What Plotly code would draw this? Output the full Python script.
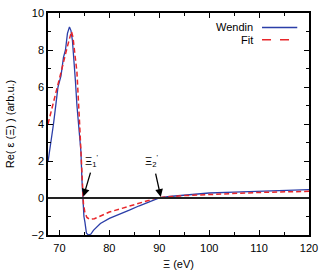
import plotly.graph_objects as go

# Data
wendin_E = [67.7, 68.3, 68.8, 69.3, 69.7, 70.3, 70.8, 71.2, 71.6, 72.0, 72.3, 72.6, 72.9, 73.2,
            73.5, 73.8, 74.0, 74.1, 74.3, 74.5, 74.7, 74.9, 75.1, 75.4, 75.8, 76.3, 76.8, 77.5,
            78.2, 80, 82, 84, 86, 88, 90, 92, 95, 100, 105, 110, 115, 120]
wendin_val = [1.95, 3.0, 4.0, 5.1, 6.0, 6.6, 7.6, 8.0, 8.9, 9.25, 9.05, 8.5, 7.5, 6.3,
              5.0, 4.0, 3.55, 3.4, 2.5, 1.0, -0.2, -1.0, -1.3, -1.9, -2.0, -1.95, -1.75, -1.55,
              -1.38, -1.1, -0.9, -0.66, -0.42, -0.2, 0.0, 0.08, 0.16, 0.27, 0.32, 0.37, 0.42, 0.45]

fit_E = [67.7, 68.5, 69.5, 70.5, 71.5, 72.0, 72.4, 72.7, 73.0, 73.5, 74.0, 74.3, 74.6, 74.8,
         75.1, 75.5, 76.0, 76.5, 77.0, 78.0, 80.0, 82.0, 84.0, 86.0, 88.0, 89.0, 90.0, 95.0,
         100.0, 110.0, 120.0]
fit_val = [4.0, 4.9, 6.0, 7.0, 8.1, 8.7, 9.0, 8.7, 8.0, 6.8, 4.2, 2.3, 0.6, -0.3,
           -0.8, -1.05, -1.15, -1.15, -1.12, -1.0, -0.76, -0.6, -0.45, -0.3, -0.12, -0.03, 0.03, 0.13,
           0.2, 0.3, 0.36]

x_ticks = [70, 80, 90, 100, 110, 120]
y_ticks = [-2, 0, 2, 4, 6, 8, 10]

# annotations: (label, label E, label val, tip E, tip val, tail E, tail val)
arrows = [("Ξ<sub>1</sub><sup>'</sup>", 76.4, 1.45, 74.8, 0.08, 76.3, 1.45),
          ("Ξ<sub>2</sub><sup>'</sup>", 88.4, 1.45, 90.3, 0.06, 89.2, 1.4)]

BLUE = "#2b3ea8"
RED = "#e8262a"
FONT = "Liberation Sans, Arial, sans-serif"

fig = go.Figure()
fig.add_hline(y=0, line=dict(color="#222222", width=2))
fig.add_trace(go.Scatter(x=wendin_E, y=wendin_val, mode="lines", name="Wendin",
                         line=dict(color=BLUE, width=1.3)))
fig.add_trace(go.Scatter(x=fit_E, y=fit_val, mode="lines", name="Fit",
                         line=dict(color=RED, width=1.5, dash="5px,3px")))

for label, lx, ly, tx, ty, sx, sy in arrows:
    fig.add_annotation(x=tx, y=ty, ax=sx, ay=sy, axref="x", ayref="y",
                       showarrow=True, arrowhead=2, arrowsize=1.2, arrowwidth=1.3,
                       arrowcolor="black", text="")
    fig.add_annotation(x=lx, y=ly, text=label, showarrow=False,
                       xanchor="center", yanchor="bottom",
                       font=dict(size=11, color="black", family=FONT))

# custom legend (text left of sample line)
legend_rows = [("Wendin", BLUE, "solid", 0.935), ("Fit", RED, "dash", 0.88)]
for name, col, dash, yp in legend_rows:
    fig.add_annotation(xref="paper", yref="paper", x=0.795, y=yp, text=name,
                       showarrow=False, xanchor="right", yanchor="middle",
                       font=dict(size=11, color="black", family=FONT))
    fig.add_shape(type="line", xref="paper", yref="paper", x0=0.82, x1=0.955, y0=yp, y1=yp,
                  line=dict(color=col, width=1.5, dash=dash))

axis_common = dict(showline=True, linecolor="black", linewidth=1.5, mirror="ticks",
                   ticks="inside", ticklen=5, tickwidth=1.2, tickcolor="black",
                   showgrid=False, zeroline=False, automargin=False,
                   tickfont=dict(size=11, color="black", family=FONT))

fig.update_xaxes(range=[67.7, 120], tickvals=x_ticks, ticklabelstandoff=2,
                 minor=dict(ticks="inside", ticklen=3, tickwidth=1, tickcolor="black", dtick=5,
                            tick0=65, showgrid=False),
                 title=dict(text="Ξ (eV)", font=dict(size=11, color="black", family=FONT)),
                 **axis_common)
fig.update_yaxes(range=[-2, 10], tickvals=y_ticks,
                 minor=dict(ticks="inside", ticklen=3, tickwidth=1, tickcolor="black", dtick=1,
                            tick0=0, showgrid=False),
                 title=dict(text="Re( ε (Ξ) ) (arb.u.)", font=dict(size=11, color="black", family=FONT)),
                 **axis_common)

fig.update_layout(width=329, height=270, margin=dict(l=48, r=20, t=13, b=35),
                  plot_bgcolor="white", paper_bgcolor="white", showlegend=False,
                  font=dict(family=FONT, size=11, color="black"))

fig.write_html("out.html", config={"displayModeBar": False},
               post_script="document.body.style.margin='0px';document.body.style.overflow='hidden';")
